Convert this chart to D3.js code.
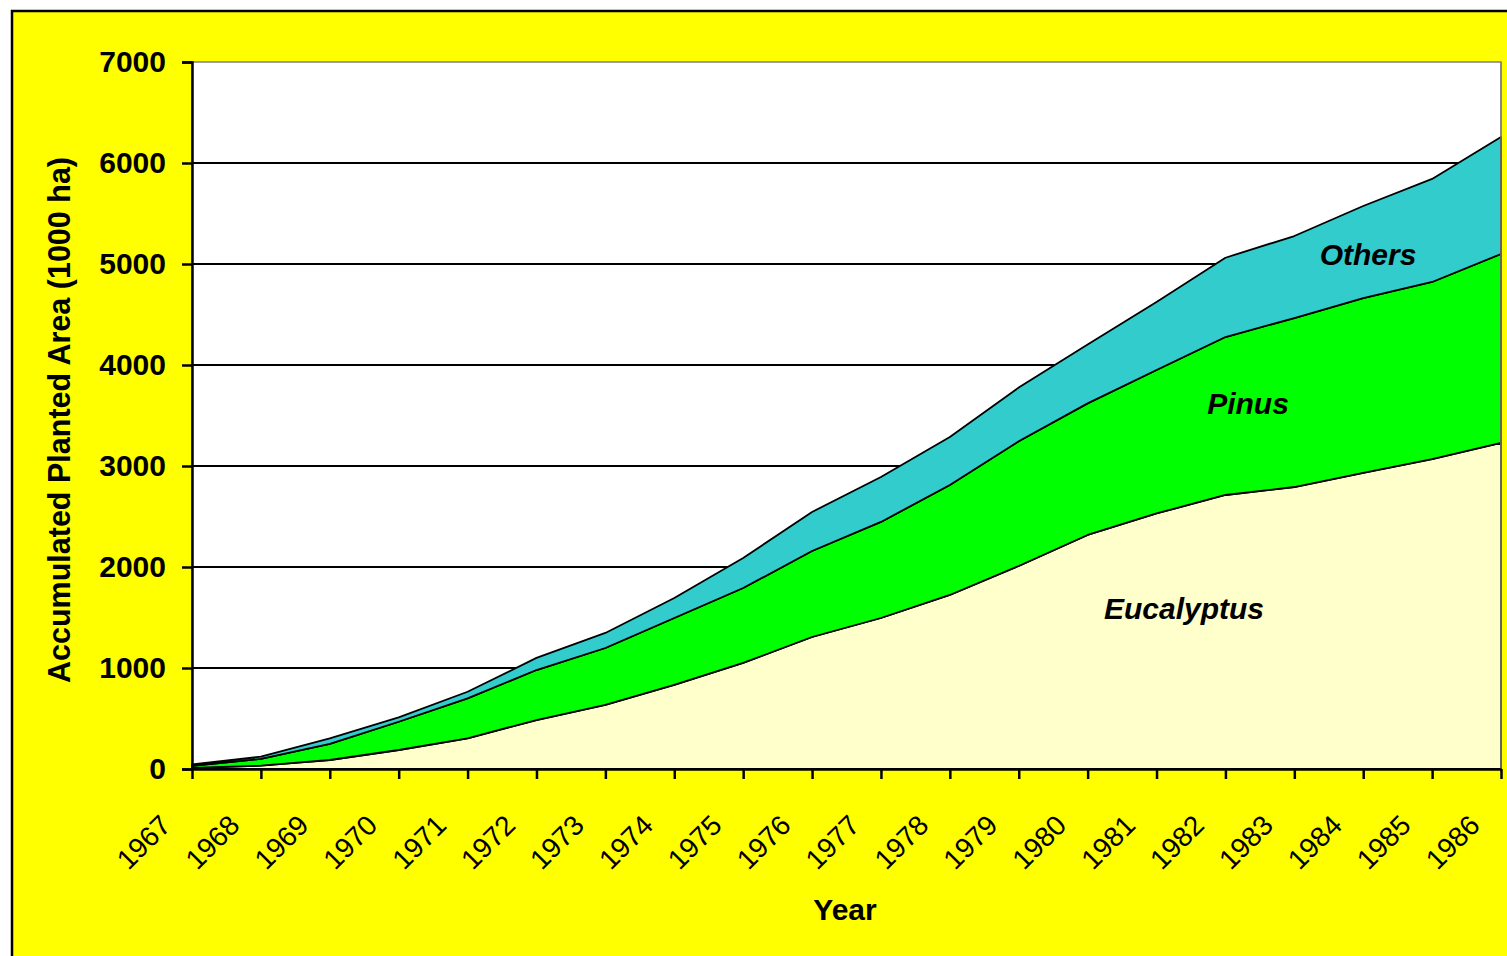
<!DOCTYPE html>
<html><head><meta charset="utf-8">
<script src="https://cdn.jsdelivr.net/npm/d3@7"></script>
<style>
html,body{margin:0;padding:0;background:#fff;overflow:hidden;}
svg{display:block;font-family:Arial,"Liberation Sans",sans-serif;}
</style></head>
<body>
<svg id="c" width="1507" height="956"></svg>
<script>
const years = [1967,1968,1969,1970,1971,1972,1973,1974,1975,1976,1977,1978,1979,1980,1981,1982,1983,1984,1985,1986];
const eucalyptus = [12,33,89,188,304,485,634,832,1050,1307,1495,1723,2010,2317,2530,2713,2792,2931,3069,3228];
const pinus = [18,67,159,280,396,495,564,663,742,851,951,1089,1235,1303,1420,1564,1673,1732,1753,1871];
const others = [15,22,56,44,65,120,149,198,297,387,445,475,532,583,674,785,812,911,1020,1158];
const seriesNames = ["Eucalyptus","Pinus","Others"];
const seriesColors = ["#FFFFCC","#00FF00","#33CCCC"];
const yTicks = [0,1000,2000,3000,4000,5000,6000,7000];

(function(){
const svg = d3.select("#c");
const pL = 192, pR = 1501, pT = 62, pB = 769;

// outer frame
svg.append("rect").attr("x",12).attr("y",11).attr("width",1700).attr("height",1100)
  .attr("fill","#FFFF00").attr("stroke","#000").attr("stroke-width",2.5);

const x = d3.scalePoint().domain(years).range([pL,pR]);
const y = d3.scaleLinear().domain([0,7000]).range([pB,pT]);

// plot background
svg.append("rect").attr("x",pL).attr("y",pT).attr("width",pR-pL).attr("height",pB-pT)
  .attr("fill","#fff").attr("stroke","#808080").attr("stroke-width",1.5);

// gridlines
svg.append("g").selectAll("line").data(yTicks.filter(d=>d>0 && d<7000)).join("line")
  .attr("x1",pL).attr("x2",pR).attr("y1",d=>y(d)).attr("y2",d=>y(d))
  .attr("stroke","#000").attr("stroke-width",2);

// stacked data
const table = years.map((yr,i)=>({year:yr, Eucalyptus:eucalyptus[i], Pinus:pinus[i], Others:others[i]}));
const stack = d3.stack().keys(seriesNames)(table);
const area = d3.area().x(d=>x(d.data.year)).y0(d=>y(d[0])).y1(d=>y(d[1]));
svg.append("g").selectAll("path").data(stack).join("path")
  .attr("d",area).attr("fill",(d,i)=>seriesColors[i])
  .attr("stroke","#000").attr("stroke-width",1.8).attr("stroke-linejoin","round");

// right edge line of plot (gray)
svg.append("line").attr("x1",pR).attr("x2",pR).attr("y1",pT).attr("y2",pB)
  .attr("stroke","#808080").attr("stroke-width",1.5);

// y axis
const yAxis = d3.axisLeft(y).tickValues(yTicks).tickSize(10).tickPadding(16).tickFormat(d3.format("d"));
const gy = svg.append("g").attr("transform",`translate(${pL},0)`).call(yAxis);
gy.select(".domain").attr("stroke","#000").attr("stroke-width",2.5);
gy.selectAll(".tick line").attr("stroke","#000").attr("stroke-width",2.5);
gy.selectAll(".tick text").attr("font-size",30).attr("font-weight","bold").attr("fill","#000")
  .attr("font-family","Arial, 'Liberation Sans', sans-serif");

// x axis
const xAxis = d3.axisBottom(x).tickSize(10).tickSizeOuter(0);
const gx = svg.append("g").attr("transform",`translate(0,${pB})`).call(xAxis);
gx.select(".domain").attr("stroke","#000").attr("stroke-width",2.5);
gx.selectAll(".tick line").attr("stroke","#000").attr("stroke-width",2.5);
gx.selectAll(".tick text")
  .attr("font-size",28).attr("fill","#000").attr("font-family","Arial, 'Liberation Sans', sans-serif")
  .attr("text-anchor","end").attr("dy","0.35em").attr("y",0)
  .attr("transform","translate(-27,51) rotate(-45)");

// axis titles
svg.append("text").attr("transform",`translate(70,420) rotate(-90)`)
  .attr("text-anchor","middle").attr("font-size",30.5).attr("font-weight","bold")
  .text("Accumulated Planted Area (1000 ha)");
svg.append("text").attr("x",845).attr("y",920).attr("text-anchor","middle")
  .attr("font-size",30).attr("font-weight","bold").text("Year");

// series labels
const labelPos = [[1184,619],[1248,414],[1368,265]];
svg.append("g").selectAll("text").data(seriesNames).join("text")
  .attr("x",(d,i)=>labelPos[i][0]).attr("y",(d,i)=>labelPos[i][1])
  .attr("text-anchor","middle").attr("font-size",30).attr("font-weight","bold").attr("font-style","italic")
  .text(d=>d);
})();
</script>
</body></html>
